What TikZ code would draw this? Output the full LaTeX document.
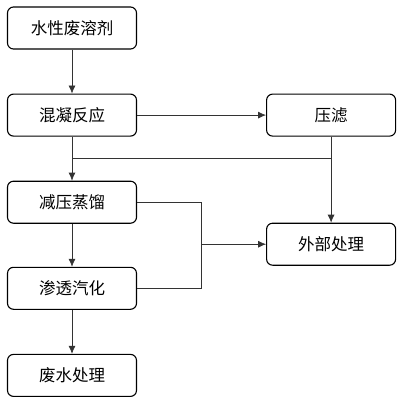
\documentclass[tikz,border=0pt]{standalone}
\usepackage{fontspec}
\setmainfont{Noto Sans CJK SC}
\usetikzlibrary{positioning,calc,arrows.meta}

\begin{document}
\begin{tikzpicture}[x=1pt,y=1pt,
  proc/.style={
   draw,
   rounded corners=6pt,
   line width=1.1pt,
   minimum width=129pt,
   minimum height=42pt,
   inner sep=2pt,
   font=\fontsize{16.5}{18}\selectfont
  },
  conn/.style={
   line width=0.7pt,
   draw=black!80
  },
  tip/.style={
   -{Latex[length=8pt,width=7pt]}
  },
	node distance=44pt]
	\useasboundingbox (0,0) rectangle (404,-402);
  	\node[proc] at (72,-28) 
		  (fs) {水性废溶剂};
	\node[proc,below=of fs] 
		  (hn) {混凝反应};
  	\node[proc,below=of hn] 
		  (jz) {减压蒸馏};
	\node[proc,below=43pt of jz] 
		  (st) {渗透汽化};
	\node[proc,below=of st] 
		  (fw) {废水处理};
	\node[proc,right=129pt of hn] 
		  (yl) {压滤};
	\node[proc,below=86pt of yl] 
		  (wb) {外部处理};

	\coordinate (mid) at ($(hn.south)!0.5!(jz.north)$);
	\coordinate (sp) at ($(jz.east)!0.5!(wb.west|-jz.east)$);

	\draw[conn,tip] (fs) -- (hn);
	\draw[conn,tip] (hn) -- (yl);
	\draw[conn,tip] (hn) -- (jz);
	\draw[conn,tip] (jz) -- (st);
	\draw[conn,tip] (st) -- (fw);
	\draw[conn,tip] (yl) -- (wb);
	\draw[conn] (mid) -- (mid-|yl.south);

	\draw[conn] (jz.east) -| (sp|-st.east) -- (st.east);
	\draw[conn,tip] (sp|-wb.west) -- (wb.west);
	\end{tikzpicture}
\end{document}
